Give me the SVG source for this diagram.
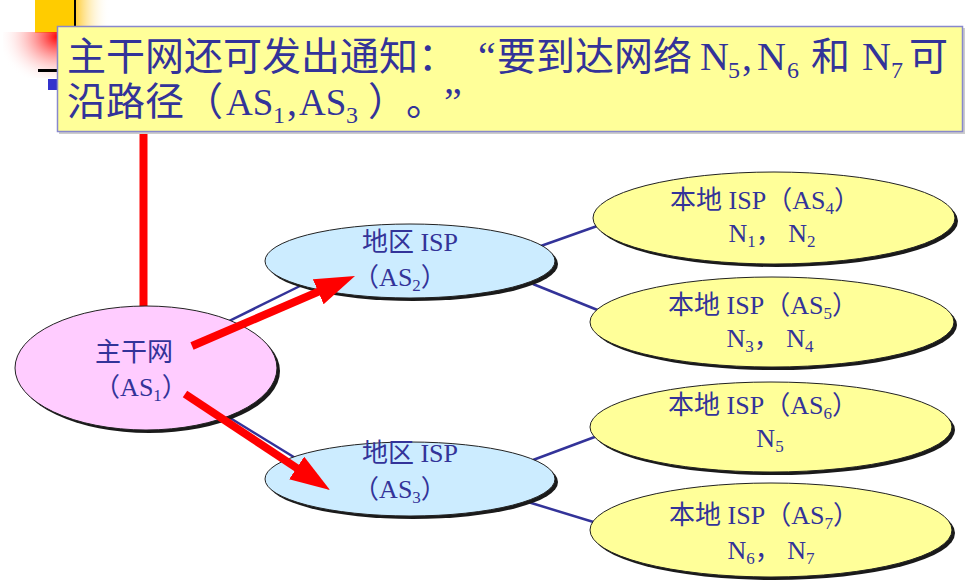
<svg xmlns="http://www.w3.org/2000/svg" width="979" height="586" viewBox="0 0 979 586">
<defs>
  <linearGradient id="gOrange" x1="0" y1="0" x2="1" y2="0">
    <stop offset="0" stop-color="#FFCC33"/>
    <stop offset="1" stop-color="#FFFFFF" stop-opacity="0"/>
  </linearGradient>
  <radialGradient id="gRed" cx="1" cy="0.1" r="1.1">
    <stop offset="0" stop-color="#FF0000"/>
    <stop offset="1" stop-color="#FFFFFF" stop-opacity="0"/>
  </radialGradient>
  <marker id="arrow" viewBox="0 0 5 3.4" refX="2.5" refY="1.7" markerWidth="5" markerHeight="3.4" markerUnits="strokeWidth" orient="auto">
    <path d="M0,0 L5,1.7 L0,3.4 z" fill="#FF0000"/>
  </marker>
  <style>
    .shadow { fill: #1a1a1a; }
    .pink { fill: #FFCCFF; stroke: #222; stroke-width: 1; }
    .blue { fill: #CCECFF; stroke: #222; stroke-width: 1; }
    .yellow { fill: #FFFF99; stroke: #222; stroke-width: 1; }
    .link { stroke: #333399; stroke-width: 2.5; fill: none; }
    .red { stroke: #FF0000; stroke-width: 8; fill: none; }
    text { fill: #333399; font-family: "Liberation Serif", "Noto Sans CJK SC", serif; }
    .node { font-size: 26px; text-anchor: middle; }
    .big { font-size: 39px; }
    .lat { font-size: 40px; }
    .sub1 { font-size: 24px; }
  </style>
</defs>

<!-- decorations -->
<g id="decor">
  <rect x="75" y="0" width="35" height="33" fill="url(#gOrange)"/>
  <rect x="35" y="0" width="40" height="33" fill="#FFCC00"/>
  <rect x="3" y="32" width="55" height="46" fill="url(#gRed)"/>
  <line x1="75" y1="0" x2="75" y2="30" stroke="#000" stroke-width="2"/>
  <line x1="38" y1="70.5" x2="58" y2="70.5" stroke="#000" stroke-width="3"/>
  <rect x="48" y="79" width="10" height="11" fill="#3333CC"/>
</g>

<!-- connectors -->
<g id="connectors">
  <line class="link" x1="215" y1="328" x2="300" y2="286"/>
  <line class="link" x1="222" y1="413" x2="297" y2="459"/>
  <line class="link" x1="538" y1="247" x2="600" y2="225"/>
  <line class="link" x1="533" y1="284" x2="600" y2="311"/>
  <line class="link" x1="533" y1="460" x2="600" y2="435"/>
  <line class="link" x1="528" y1="502" x2="600" y2="524"/>
  <line class="red" x1="143.5" y1="130" x2="143.5" y2="312"/>
</g>

<!-- callout -->
<g id="callout">
  <rect x="59" y="28" width="906" height="106" fill="#CCCCCC"/>
  <rect x="57.5" y="26.5" width="905" height="105" fill="#FFFF99" stroke="#8888CC" stroke-width="1.5"/>
  <text class="big" y="70"><tspan x="67">主干网还可发出通知：</tspan><tspan x="478" class="lat">“</tspan><tspan x="497">要到达网络</tspan><tspan x="700" class="lat">N</tspan><tspan x="728" class="sub1" dy="8">5</tspan><tspan x="742" class="lat" dy="-8">,</tspan><tspan x="757" class="lat">N</tspan><tspan x="787" class="sub1" dy="8">6</tspan><tspan x="811" dy="-8">和</tspan><tspan x="862" class="lat">N</tspan><tspan x="891" class="sub1" dy="8">7</tspan><tspan x="909" dy="-8">可</tspan></text>
  <text class="big" y="115"><tspan x="67">沿路径</tspan><tspan x="184">（</tspan><tspan x="226" font-size="37">AS</tspan><tspan x="273" font-size="24" dy="8">1</tspan><tspan x="287" class="lat" dy="-8">,</tspan><tspan x="299" font-size="37">AS</tspan><tspan x="346" font-size="24" dy="8">3</tspan><tspan x="368" dy="-8">）</tspan><tspan x="406">。</tspan><tspan x="444" class="lat">”</tspan></text>
</g>

<g id="as1">
  <ellipse class="shadow" cx="149" cy="371" rx="131" ry="62"/>
  <ellipse class="pink" cx="146" cy="368" rx="131" ry="62"/>
  <text class="node" x="134" y="361" font-size="27">主干网</text>
  <text class="node" x="141" y="396">（AS<tspan font-size="17" dy="5">1</tspan><tspan dy="-5">）</tspan></text>
</g>

<g id="as2">
  <ellipse class="shadow" cx="413" cy="264" rx="145" ry="37"/>
  <ellipse class="blue" cx="410" cy="261" rx="145" ry="37"/>
  <text class="node" x="410" y="251">地区 ISP</text>
  <text class="node" x="400" y="286">（AS<tspan font-size="17" dy="5">2</tspan><tspan dy="-5">）</tspan></text>
</g>

<g id="as3">
  <ellipse class="shadow" cx="413" cy="482" rx="145" ry="37"/>
  <ellipse class="blue" cx="410" cy="479" rx="145" ry="37"/>
  <text class="node" x="410" y="462">地区 ISP</text>
  <text class="node" x="400" y="498">（AS<tspan font-size="17" dy="5">3</tspan><tspan dy="-5">）</tspan></text>
</g>

<g id="as4">
  <ellipse class="shadow" cx="777" cy="221" rx="181" ry="46"/>
  <ellipse class="yellow" cx="774" cy="218" rx="181" ry="46"/>
  <text class="node" x="765" y="209">本地 ISP（AS<tspan font-size="17" dy="5">4</tspan><tspan dy="-5">）</tspan></text>
  <text class="node" x="772" y="242">N<tspan font-size="17" dy="5">1</tspan><tspan dy="-5">，  N</tspan><tspan font-size="17" dy="5">2</tspan></text>
</g>

<g id="as5">
  <ellipse class="shadow" cx="775" cy="325" rx="182" ry="45"/>
  <ellipse class="yellow" cx="772" cy="322" rx="182" ry="45"/>
  <text class="node" x="763" y="314">本地 ISP（AS<tspan font-size="17" dy="5">5</tspan><tspan dy="-5">）</tspan></text>
  <text class="node" x="770" y="347">N<tspan font-size="17" dy="5">3</tspan><tspan dy="-5">，  N</tspan><tspan font-size="17" dy="5">4</tspan></text>
</g>

<g id="as6">
  <ellipse class="shadow" cx="774" cy="430" rx="181" ry="45"/>
  <ellipse class="yellow" cx="771" cy="427" rx="181" ry="45"/>
  <text class="node" x="763" y="414">本地 ISP（AS<tspan font-size="17" dy="5">6</tspan><tspan dy="-5">）</tspan></text>
  <text class="node" x="770" y="447">N<tspan font-size="17" dy="5">5</tspan></text>
</g>

<g id="as7">
  <ellipse class="shadow" cx="774" cy="533" rx="181" ry="47"/>
  <ellipse class="yellow" cx="771" cy="530" rx="181" ry="47"/>
  <text class="node" x="764" y="524">本地 ISP（AS<tspan font-size="17" dy="5">7</tspan><tspan dy="-5">）</tspan></text>
  <text class="node" x="771" y="559">N<tspan font-size="17" dy="5">6</tspan><tspan dy="-5">，  N</tspan><tspan font-size="17" dy="5">7</tspan></text>
</g>

<g id="arrows">
  <line class="red" x1="192" y1="346" x2="336.6" y2="283.9" marker-end="url(#arrow)"/>
  <line class="red" x1="185" y1="394" x2="313.3" y2="479" marker-end="url(#arrow)"/>
</g>
</svg>
